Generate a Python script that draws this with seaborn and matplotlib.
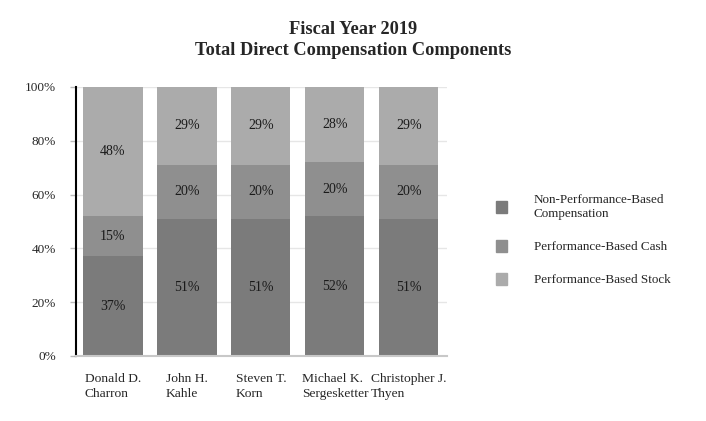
import numpy as np
import pandas as pd
import seaborn as sns
import matplotlib.pyplot as plt
from matplotlib.patches import Patch

executives = ["Donald D.\nCharron", "John H.\nKahle", "Steven T.\nKorn",
              "Michael K.\nSergesketter", "Christopher J.\nThyen"]
non_perf = [37, 51, 51, 52, 51]
perf_cash = [15, 20, 20, 20, 20]
perf_stock = [48, 29, 29, 28, 29]

series_names = ["Non-Performance-Based\nCompensation",
                "Performance-Based Cash", "Performance-Based Stock"]
colors = ["#7b7b7b", "#8f8f8f", "#ababab"]

sns.set_theme(style="white")
plt.rcParams["font.family"] = ["Liberation Serif", "DejaVu Serif"]

df = pd.DataFrame({"exec": executives, "non": non_perf,
                   "cash": perf_cash, "stock": perf_stock})
df["lvl2"] = df["non"] + df["cash"]
df["lvl3"] = df["lvl2"] + df["stock"]

fig = plt.figure(figsize=(7.06, 4.21), dpi=100)
ax = fig.add_axes([0.1076, 0.1544, 0.526, 0.639])

# stacked bars by overlaying cumulative totals
for col, c in zip(["lvl3", "lvl2", "non"], colors[::-1]):
    sns.barplot(data=df, x="exec", y=col, color=c, width=0.8,
                saturation=1, linewidth=0, ax=ax, zorder=2)

for i in range(len(executives)):
    bottoms = [0, non_perf[i], non_perf[i] + perf_cash[i]]
    for b, v in zip(bottoms, [non_perf[i], perf_cash[i], perf_stock[i]]):
        ax.text(i, b + v / 2, f"{v}%", ha="center", va="center",
                fontsize=10, color="#1a1a1a", zorder=3)

ax.set_ylim(0, 100)
ax.set_xlim(-0.5, 4.52)
ax.set_yticks(np.arange(0, 101, 20))
ax.set_yticklabels([f"{t}%" for t in range(0, 101, 20)], fontsize=9.5)
ax.set_xticks(range(len(executives)))
ax.set_xticklabels(executives, fontsize=9.7, ha="center",
                   multialignment="left", linespacing=1.35)
ax.set_xlabel("")
ax.set_ylabel("")
ax.yaxis.grid(True, color="#e6e6e6", linewidth=1, zorder=0)
ax.set_axisbelow(True)
for s in ["top", "right"]:
    ax.spines[s].set_visible(False)
ax.spines["left"].set_color("black")
ax.spines["left"].set_linewidth(1.5)
ax.spines["bottom"].set_color("#c8c8c8")
ax.spines["bottom"].set_linewidth(1.5)
ax.tick_params(axis="y", left=True, length=4.5, color="#bbbbbb", width=1, pad=10)
ax.tick_params(axis="x", bottom=False, pad=6)

fig.text(0.5, 0.931, "Fiscal Year 2019", ha="center", va="center",
         fontsize=13.2, fontweight="bold")
fig.text(0.5, 0.881, "Total Direct Compensation Components", ha="center",
         va="center", fontsize=13.2, fontweight="bold")

handles = [Patch(color=c, label=n) for c, n in zip(colors, series_names)]
leg = fig.legend(handles=handles, loc="center left",
                 bbox_to_anchor=(0.686, 0.43), frameon=False, fontsize=9.45,
                 handlelength=0.85, handleheight=1.0, labelspacing=1.5,
                 handletextpad=2.0)
for t in leg.get_texts():
    t.set_linespacing(1.3)

fig.savefig("out.png", dpi=100)
